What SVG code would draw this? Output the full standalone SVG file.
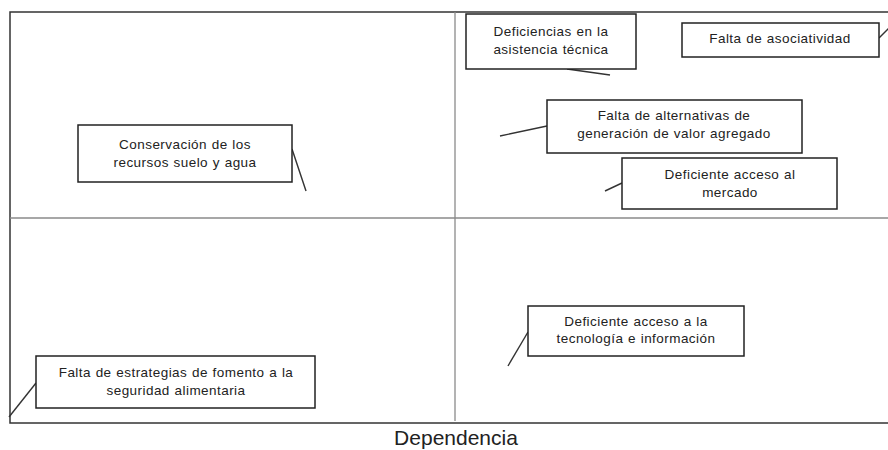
<svg xmlns="http://www.w3.org/2000/svg" width="888" height="450" viewBox="0 0 888 450">
<style>
.frame{fill:none;stroke:#333;stroke-width:1.5}
.div{stroke:#8a8a8a;stroke-width:1.3}
.box{fill:#fff;stroke:#222;stroke-width:1.5}
.lbl{font-family:"Liberation Sans",Arial,sans-serif;font-size:13.5px;letter-spacing:0.45px;word-spacing:0.5px;fill:#222;text-anchor:middle}
.conn line{stroke:#333;stroke-width:1.4}
.axis{font-family:"Liberation Sans",Arial,sans-serif;font-size:21px;fill:#222;text-anchor:middle}
</style>
<rect x="0" y="0" width="888" height="450" fill="#fff"/>
<rect class="frame" x="10" y="12" width="890" height="411"/>
<line class="div" x1="455" y1="12" x2="455" y2="421"/>
<line class="div" x1="10" y1="218" x2="888" y2="218"/>
<g class="conn" id="connectors">
<line x1="292" y1="149" x2="306" y2="191"/>
<line x1="567" y1="69" x2="610" y2="75"/>
<line x1="879" y1="38" x2="889" y2="28"/>
<line x1="547" y1="126" x2="500" y2="136"/>
<line x1="622" y1="183" x2="605" y2="191"/>
<line x1="36" y1="383" x2="9" y2="417"/>
<line x1="528" y1="332" x2="508" y2="366"/>
</g>
<g id="n1"><rect class="box" x="78" y="125" width="214" height="57"/><text class="lbl" x="185" y="149">Conservación de los</text><text class="lbl" x="185" y="167">recursos suelo y agua</text></g>
<g id="n2"><rect class="box" x="466" y="14" width="170" height="55"/><text class="lbl" x="551" y="36">Deficiencias en la</text><text class="lbl" x="551" y="54">asistencia técnica</text></g>
<g id="n3"><rect class="box" x="682" y="23" width="197" height="34"/><text class="lbl" x="780" y="43">Falta de asociatividad</text></g>
<g id="n4"><rect class="box" x="547" y="100" width="255" height="53"/><text class="lbl" x="674" y="120">Falta de alternativas de</text><text class="lbl" x="674" y="138">generación de valor agregado</text></g>
<g id="n5"><rect class="box" x="622" y="158" width="215" height="51"/><text class="lbl" x="730" y="179">Deficiente acceso al</text><text class="lbl" x="730" y="197">mercado</text></g>
<g id="n6"><rect class="box" x="36" y="356" width="279" height="52"/><text class="lbl" x="176" y="377">Falta de estrategias de fomento a la</text><text class="lbl" x="176" y="395">seguridad alimentaria</text></g>
<g id="n7"><rect class="box" x="528" y="306" width="216" height="50"/><text class="lbl" x="636" y="326">Deficiente acceso a la</text><text class="lbl" x="636" y="343">tecnología e información</text></g>
<text class="axis" x="456" y="445">Dependencia</text>
</svg>
